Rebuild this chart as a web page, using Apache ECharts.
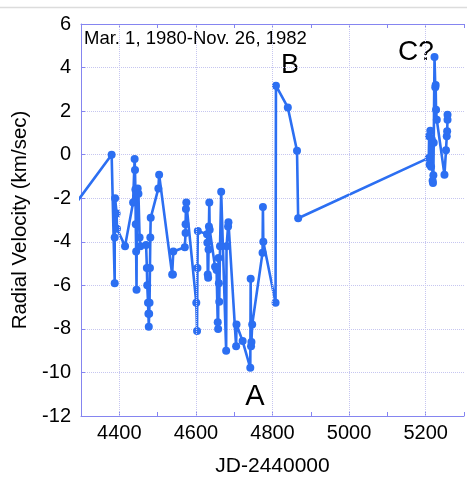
<!DOCTYPE html>
<html>
<head>
<meta charset="utf-8">
<script src="https://cdn.jsdelivr.net/npm/echarts@6/dist/echarts.min.js"></script>
<style>
  html, body { margin: 0; padding: 0; background: #fff; }
  #chart { width: 467px; height: 484px; }
</style>
</head>
<body>
<div id="chart"></div>
<script>
// Julian date offsets (JD-2440000) of each velocity measurement
const jd = [
  4290, 4380, 4388, 4388, 4389, 4393, 4394, 4415,
  4436, 4440, 4441, 4442, 4443, 4444, 4445, 4446, 4448, 4450, 4453, 4455,
  4470, 4472, 4473, 4475, 4476, 4477, 4478, 4479, 4480, 4481, 4482,
  4502, 4504, 4538, 4540, 4541,
  4571, 4573, 4573, 4574, 4575, 4601, 4603, 4604, 4605,
  4629, 4630, 4631, 4632, 4633, 4634, 4635, 4636,
  4650, 4654, 4657, 4658, 4659, 4660, 4661, 4663, 4666,
  4679, 4680, 4684, 4685, 4705, 4706, 4722,
  4742, 4743, 4744, 4745, 4747, 4774, 4775, 4776,
  4808, 4809, 4840, 4864, 4867,
  5208, 5209, 5210, 5212, 5214, 5216, 5218, 5219, 5220, 5221,
  5223, 5225, 5226, 5227, 5229, 5249, 5253, 5255, 5256, 5257, 5257
];
// Radial velocity in km/sec
const rv = [
  -2.15, 0.0, -5.9, -3.8, -2.0, -2.7, -3.4, -4.2,
  -2.2, -0.2, -0.7, -1.6, -3.2, -4.45, -6.2, -1.75, -1.55, -1.8, -3.8, -4.2,
  -4.15, -5.2, -6.0, -6.8, -7.3, -7.9, -7.3, -6.8, -5.2, -3.8, -2.9,
  -1.55, -0.92, -5.5, -5.5, -4.45,
  -4.25, -3.6, -3.2, -2.5, -2.2, -6.8, -8.1, -5.2, -3.5,
  -3.65, -4.05, -5.5, -5.65, -4.35, -3.3, -2.2, -3.45,
  -5.15, -5.3, -7.7, -8.0, -4.75, -5.9, -6.75, -4.2, -1.7,
  -9.0, -4.2, -3.3, -3.1, -8.8, -7.8, -8.56,
  -9.79, -5.7, -8.8, -8.6, -7.8, -4.5, -2.4, -4.0,
  -6.8, 3.17, 2.17, 0.18, -2.92,
  -0.15, 0.85, -0.45, 1.1, -0.55, 0.7, -1.2, -1.3, -0.95, 0.55,
  4.48, 3.1, 3.2, 2.06, 1.6, -0.92, 0.2, 0.85, 1.07, 1.6, 1.83
];
// Labelled x ticks, and where the vertical grid lines sit
const xTickLabels = [4400, 4600, 4800, 5000, 5200];
const yTicks = [-12, -10, -8, -6, -4, -2, 0, 2, 4, 6];

const BLUE = '#2c6ff2';
const AXIS = '#8585f0';
const GRID = '#c6c6f0';
const FONT = '"Liberation Sans", Arial, Helvetica, sans-serif';

const chart = echarts.init(document.getElementById('chart'), null, { renderer: 'canvas' });

const xCommon = {
  type: 'value',
  min: 4300,
  max: 5300,
  interval: 100,
  axisLine: { show: true, onZero: false, lineStyle: { color: AXIS, width: 1 } },
  axisTick: { show: true, inside: true, length: 4, lineStyle: { color: AXIS } },
  splitLine: { show: false }
};

chart.setOption({
  animation: false,
  textStyle: { fontFamily: FONT },
  grid: { left: 81, top: 24, right: -4, bottom: 68, containLabel: false },
  xAxis: [
    Object.assign({}, xCommon, {
      position: 'bottom',
      name: 'JD-2440000',
      nameLocation: 'middle',
      nameGap: 40,
      nameTextStyle: { fontSize: 21, color: '#000', fontFamily: FONT },
      axisLabel: {
        fontSize: 20, color: '#000', margin: 7, fontFamily: FONT,
        formatter: v => (xTickLabels.indexOf(v) >= 0 ? String(v) : '')
      }
    }),
    Object.assign({}, xCommon, {
      position: 'top',
      axisLabel: { show: false }
    })
  ],
  yAxis: {
    type: 'value',
    min: yTicks[0],
    max: yTicks[yTicks.length - 1],
    interval: 2,
    name: 'Radial Velocity (km/sec)',
    nameLocation: 'middle',
    nameGap: 50,
    nameTextStyle: { fontSize: 20.5, color: '#000', fontFamily: FONT },
    axisLine: { show: true, lineStyle: { color: AXIS, width: 1 } },
    axisTick: { show: true, inside: true, length: 4, lineStyle: { color: AXIS } },
    axisLabel: { fontSize: 20, color: '#000', margin: 10, fontFamily: FONT },
    splitLine: { show: true, lineStyle: { color: GRID, type: 'dotted', width: 1 } }
  },
  series: [
    {
      // vertical dotted grid lines at the labelled dates
      type: 'line',
      data: [],
      z: 1,
      silent: true,
      markLine: {
        silent: true,
        symbol: ['none', 'none'],
        label: { show: false },
        lineStyle: { color: GRID, type: 'dotted', width: 1 },
        data: xTickLabels.map(v => ({ xAxis: v }))
      }
    },
    {
      type: 'line',
      z: 3,
      data: jd.map((x, i) => [x, rv[i]]),
      symbol: 'circle',
      symbolSize: 8,
      showAllSymbol: true,
      clip: true,
      itemStyle: { color: BLUE },
      lineStyle: { color: BLUE, width: 2.6 }
    }
  ],
  graphic: [
    {
      type: 'line',
      shape: { x1: 0, y1: 7.5, x2: 467, y2: 7.5 },
      style: { stroke: '#dcdcdc', lineWidth: 1.5 },
      silent: true
    },
    {
      type: 'text', left: 84, top: 29,
      style: { text: 'Mar. 1, 1980-Nov. 26, 1982', font: '18.5px ' + FONT, fill: '#000' }
    },
    {
      type: 'text', x: 255, y: 397,
      style: { text: 'A', font: '29px ' + FONT, fill: '#000', align: 'center', verticalAlign: 'middle' }
    },
    {
      type: 'text', x: 290, y: 66,
      style: { text: 'B', font: '27px ' + FONT, fill: '#000', align: 'center', verticalAlign: 'middle' }
    },
    {
      type: 'text', x: 416, y: 52,
      style: { text: 'C?', font: '28px ' + FONT, fill: '#000', align: 'center', verticalAlign: 'middle' }
    }
  ]
});
</script>
</body>
</html>
